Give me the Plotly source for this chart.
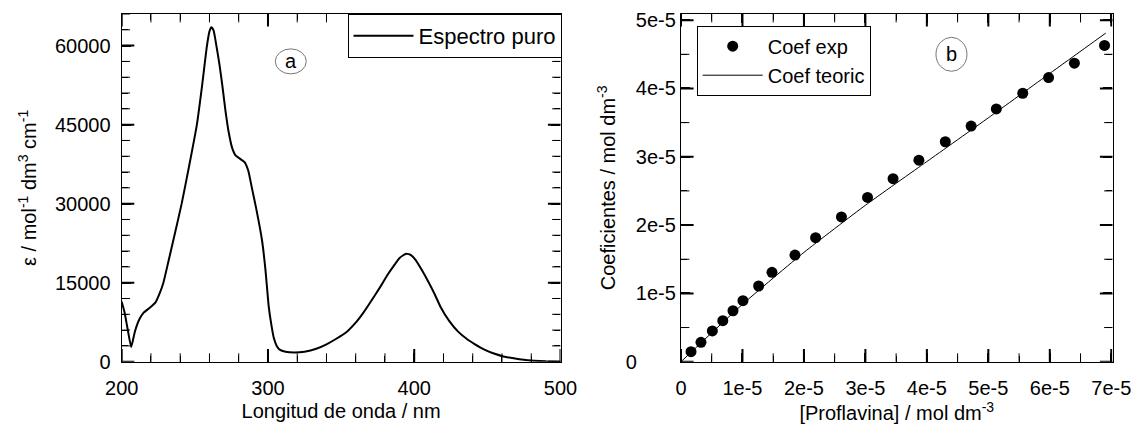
import plotly.graph_objects as go

# ---- Panel a: pure spectrum ----
wavelength = [200, 202, 204, 206.5, 209, 212, 215, 219, 223, 226, 228.5, 232, 236, 241, 246, 251.4,
              255, 258.2, 260, 261.3, 262.8, 264.6, 266.8, 269, 271, 273, 275.5, 278, 281, 284,
              286.5, 289, 292, 295.9, 298.3, 300.5, 302.5, 304, 306, 308, 312, 318, 325, 333, 340,
              347, 354, 360, 365.5, 371, 377, 382, 386, 390, 394.5, 398, 401, 405, 410, 414, 418,
              424, 430, 436, 441, 448, 454.5, 461, 468, 475, 482, 490, 500]
epsilon = [11400, 9300, 6300, 2800, 5700, 8000, 9300, 10200, 11200, 13000, 15000, 19100, 23900, 30000,
           37000, 45000, 52500, 59800, 62700, 63500, 62900, 60200, 56500, 52000, 47500, 43800, 40600,
           39100, 38500, 37900, 36300, 33000, 29000, 23100, 17400, 10500, 6700, 4500, 3000, 2300,
           1900, 1750, 1900, 2450, 3300, 4400, 5700, 7400, 9400, 11700, 14300, 16600, 18200, 19700,
           20500, 20200, 19300, 17500, 15000, 12800, 10400, 7700, 5700, 4300, 3400, 2300, 1550, 1000,
           640, 350, 190, 70, 0]

# ---- Panel b: coefficients ----
prof_exp = [0.163e-5, 0.325e-5, 0.51e-5, 0.68e-5, 0.846e-5, 1.008e-5, 1.263e-5, 1.48e-5, 1.854e-5,
            2.19e-5, 2.61e-5, 3.035e-5, 3.45e-5, 3.87e-5, 4.30e-5, 4.72e-5, 5.13e-5, 5.56e-5,
            5.98e-5, 6.40e-5, 6.89e-5]
coef_exp = [0.146e-5, 0.284e-5, 0.45e-5, 0.60e-5, 0.746e-5, 0.893e-5, 1.108e-5, 1.308e-5, 1.561e-5,
            1.815e-5, 2.12e-5, 2.405e-5, 2.68e-5, 2.95e-5, 3.22e-5, 3.45e-5, 3.70e-5, 3.93e-5,
            4.16e-5, 4.37e-5, 4.63e-5]
prof_teo = [0, 1e-5, 2e-5, 3e-5, 4e-5, 5e-5, 6e-5, 6.91e-5]
coef_teo = [0, 0.84e-5, 1.60e-5, 2.29e-5, 2.93e-5, 3.57e-5, 4.22e-5, 4.81e-5]

# ---- tick labels ----
a_xticks = [200, 300, 400, 500]
a_xtext = ["200", "300", "400", "500"]
a_yticks = [0, 15000, 30000, 45000, 60000]
a_ytext = ["0", "15000", "30000", "45000", "60000"]
b_xticks = [0, 1e-5, 2e-5, 3e-5, 4e-5, 5e-5, 6e-5, 7e-5]
b_xtext = ["0", "1e-5", "2e-5", "3e-5", "4e-5", "5e-5", "6e-5", "7e-5"]
b_yticks = [0, 1e-5, 2e-5, 3e-5, 4e-5, 5e-5]
b_ytext = ["0\u00a0\u00a0\u00a0\u00a0\u00a0\u00a0\u00a0", "1e-5", "2e-5", "3e-5", "4e-5", "5e-5"]

# axis ranges
a_xrange = [200, 500]
a_yrange = [0, 66000]
b_xrange = [0, 7.02e-5]
b_yrange = [0, 5.09e-5]

FONT = "Liberation Sans, Arial, sans-serif"
W, H = 1136, 428
ML, MR, MT, MB = 20, 20, 10, 10
IW, IH = W - ML - MR, H - MT - MB
tfont = dict(family=FONT, size=20, color="black")

def px_x(p):
    return (p - ML) / IW

def px_y(p):
    return (H - MB - p) / IH

fig = go.Figure()
fig.add_trace(go.Scatter(x=wavelength, y=epsilon, mode="lines", name="Espectro puro",
                         line=dict(color="black", width=2, shape="spline", smoothing=0.5),
                         xaxis="x", yaxis="y"))
fig.add_trace(go.Scatter(x=prof_exp, y=coef_exp, mode="markers", name="Coef exp",
                         marker=dict(color="black", size=11),
                         xaxis="x2", yaxis="y2", legend="legend2"))
fig.add_trace(go.Scatter(x=prof_teo, y=coef_teo, mode="lines", name="Coef teoric",
                         line=dict(color="black", width=1, shape="spline", smoothing=0.5),
                         xaxis="x2", yaxis="y2", legend="legend2"))

# ---- inside tick marks (major + minor, mirrored), clipped to the plot area ----
def tick_marks(xa, ya, positions, is_x, lo, hi, length, width):
    if is_x:
        xs = positions + positions
        ys = [lo] * len(positions) + [hi] * len(positions)
        sym = "line-ns"
    else:
        ys = positions + positions
        xs = [lo] * len(positions) + [hi] * len(positions)
        sym = "line-ew"
    fig.add_trace(go.Scatter(x=xs, y=ys, mode="markers", showlegend=False, hoverinfo="skip",
                             xaxis=xa, yaxis=ya, cliponaxis=True,
                             marker=dict(symbol=sym, size=2 * length, color="black",
                                         line=dict(color="black", width=width))))

def axis_ticks(xa, ya, start, step, count, every, is_x, lo, hi):
    vals = [start + step * i for i in range(count)]
    major = [v for i, v in enumerate(vals) if i % every == 0]
    minor = [v for i, v in enumerate(vals) if i % every != 0]
    tick_marks(xa, ya, major, is_x, lo, hi, 9, 2)
    tick_marks(xa, ya, minor, is_x, lo, hi, 6, 1)

axis_ticks("x", "y", 200, 20, 16, 5, True, a_yrange[0], a_yrange[1])
axis_ticks("x", "y", 0, 3000, 23, 5, False, a_xrange[0], a_xrange[1])
axis_ticks("x2", "y2", 0, 0.5e-5, 15, 2, True, b_yrange[0], b_yrange[1])
axis_ticks("x2", "y2", 0, 0.5e-5, 11, 2, False, b_xrange[0], b_xrange[1])

ydom = [px_y(361.7), px_y(14)]

def axis(minor_step, **kw):
    d = dict(showline=True, linecolor="black", linewidth=1.3, mirror="ticks",
             ticks="inside", ticklen=9, tickwidth=2, tickcolor="black",
             showgrid=False, zeroline=False, automargin=False, tickfont=tfont,
             minor=dict(dtick=minor_step, ticks="inside", ticklen=6, tickwidth=1,
                        tickcolor="black", showgrid=False))
    d.update(kw)
    return d

def title(text, standoff):
    return dict(text=text, standoff=standoff, font=tfont)

fig.update_layout(
    width=W, height=H, margin=dict(l=ML, r=MR, t=MT, b=MB),
    paper_bgcolor="white", plot_bgcolor="white",
    showlegend=True,
    xaxis=axis(20, domain=[px_x(121.7), px_x(560.5)], range=a_xrange, anchor="y",
               tickmode="array", tickvals=a_xticks, ticktext=a_xtext, ticklabelstandoff=8,
               title=title("Longitud de onda / nm", 6)),
    yaxis=axis(3000, domain=ydom, range=a_yrange, anchor="x",
               tickmode="array", tickvals=a_yticks, ticktext=a_ytext, ticklabelstandoff=6,
               title=title("\u03b5 / mol<sup>-1</sup> dm<sup>3</sup> cm<sup>-1</sup>", 12)),
    xaxis2=axis(0.5e-5, domain=[px_x(681), px_x(1112.5)], range=b_xrange, anchor="y2",
                tickmode="array", tickvals=b_xticks, ticktext=b_xtext, ticklabelstandoff=8,
                title=title("[Proflavina] / mol dm<sup>-3</sup>", 6)),
    yaxis2=axis(0.5e-5, domain=ydom, range=b_yrange, anchor="x2",
                tickmode="array", tickvals=b_yticks, ticktext=b_ytext,
                title=title("Coeficientes / mol dm<sup>-3</sup>", 4)),
    legend=dict(x=px_x(561.5), xanchor="right", y=px_y(14), yanchor="top",
                bordercolor="black", borderwidth=1, bgcolor="white",
                font=dict(family=FONT, size=22, color="black"), itemwidth=60),
    legend2=dict(x=px_x(696.7), xanchor="left", y=px_y(25.7), yanchor="top",
                 bordercolor="black", borderwidth=1, bgcolor="white",
                 font=tfont, itemwidth=60, tracegroupgap=0),
)

# labelled ellipses "a" and "b"
fig.add_shape(type="circle", xref="x", yref="y", x0=305.0, x1=326.2, y0=54630, y1=59380,
              line=dict(color="#777777", width=1))
fig.add_annotation(x=315.6, y=57000, xref="x", yref="y", text="a", showarrow=False, font=tfont)
fig.add_shape(type="circle", xref="x2", yref="y2", x0=4.148e-5, x1=4.652e-5, y0=4.251e-5, y1=4.749e-5,
              line=dict(color="#777777", width=1))
fig.add_annotation(x=4.40e-5, y=4.50e-5, xref="x2", yref="y2", text="b", showarrow=False, font=tfont)

fig.write_html("out.html")
